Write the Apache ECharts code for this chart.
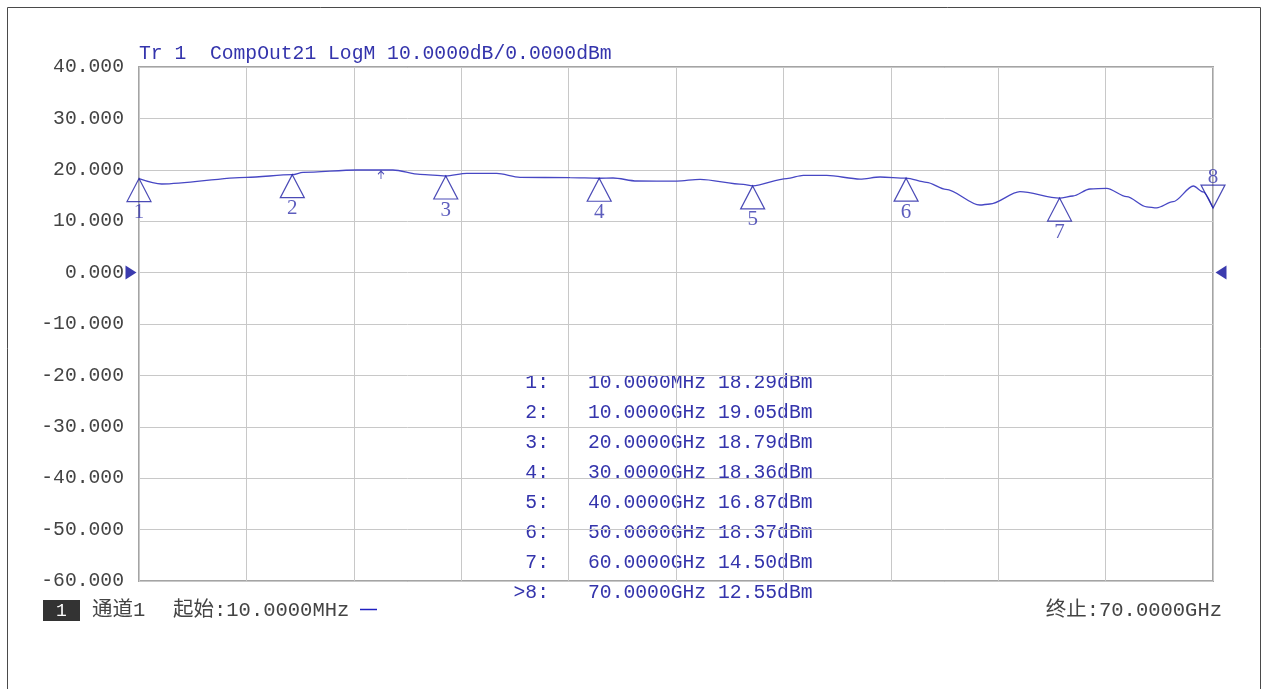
<!DOCTYPE html>
<html>
<head>
<meta charset="utf-8">
<script src="https://cdn.jsdelivr.net/npm/echarts@6/dist/echarts.min.js"></script>
<style>
html,body{margin:0;padding:0;background:#fff;}
#c{width:1263px;height:689px;}
</style>
</head>
<body>
<div id="c"></div>
<script>
// ---- data ----
var traceFreqGHz = [0.01, 1.49, 7.03, 10.0, 10.70, 14.20, 16.56, 18.32, 20.0, 21.37, 23.32, 24.84, 28.10, 30.0, 30.9, 32.45, 35.05, 36.57, 39.39, 40.0, 42.22, 43.30, 44.83, 47.0, 48.3, 50.0, 51.33, 52.6, 54.81, 55.46, 57.42, 60.0, 60.87, 61.98, 63.07, 64.37, 65.68, 66.33, 67.4, 68.72, 69.35, 70.0];
var traceDbm = [18.29, 17.24, 18.54, 19.05, 19.5, 19.96, 19.96, 19.1, 18.79, 19.3, 19.3, 18.54, 18.46, 18.36, 18.4, 17.82, 17.8, 18.15, 17.18, 16.87, 18.3, 18.9, 18.9, 18.2, 18.6, 18.37, 17.57, 16.2, 13.15, 13.35, 15.74, 14.50, 14.9, 16.26, 16.4, 14.77, 12.8, 12.6, 13.8, 16.85, 15.7, 12.55];
var markerNames = ['1', '2', '3', '4', '5', '6', '7', '8'];
var markerFreqGHz = [0.01, 10, 20, 30, 40, 50, 60, 70];
var markerDbm = [18.29, 19.05, 18.79, 18.36, 16.87, 18.37, 14.50, 12.55];
var markerFreqText = ['10.0000MHz', '10.0000GHz', '20.0000GHz', '30.0000GHz', '40.0000GHz', '50.0000GHz', '60.0000GHz', '70.0000GHz'];
var markerValText = ['18.29dBm', '19.05dBm', '18.79dBm', '18.36dBm', '16.87dBm', '18.37dBm', '14.50dBm', '12.55dBm'];
var activeMarker = 8;
var maxArrowPoint = [15.78, 19.96];
var refLevel = 0;
var yMin = -60, yMax = 40, yStep = 10;
var xStart = 0.01, xStop = 70;
var titleText = 'Tr 1  CompOut21 LogM 10.0000dB/0.0000dBm';
var startText = '起始:10.0000MHz';
var stopText = '终止:70.0000GHz';
var channelText = '通道1';

// ---- styles ----
var MONO = "'Liberation Mono','Noto Sans CJK SC',monospace";
var FS = '19.7px ';
var BLUE_TXT = '#3434ac';
var TRACE = '#4747c4';
var MARK = '#1e1ea4';

var chart = echarts.init(document.getElementById('c'));

var traceData = traceFreqGHz.map(function (f, i) { return [f, traceDbm[i]]; });
var markerData = markerFreqGHz.map(function (f, i) {
  var active = (i + 1) === activeMarker;
  return {
    value: [f, markerDbm[i]],
    symbolRotate: active ? 180 : 0,
    symbolOffset: active ? [0, -11.5] : [0, 11.5]
  };
});
var markerLabelData = markerFreqGHz.map(function (f, i) {
  var active = (i + 1) === activeMarker;
  return {
    value: [f, markerDbm[i]],
    name: markerNames[i],
    label: { offset: active ? [0, -31] : [0, 34] }
  };
});

var graphics = [
  { type: 'rect', shape: { x: 7.5, y: 7.5, width: 1253, height: 700 }, style: { fill: 'none', stroke: '#4a4a4a', lineWidth: 1 }, silent: true },
  { type: 'text', left: 139, top: 44, style: { text: titleText, font: FS + MONO, fill: BLUE_TXT } },
  { type: 'rect', shape: { x: 43, y: 600, width: 37, height: 21 }, style: { fill: '#333333' } },
  { type: 'text', x: 61.5, y: 611, style: { text: '1', font: '18px ' + MONO, fill: '#ffffff', align: 'center', verticalAlign: 'middle' } },
  { type: 'text', x: 92, y: 611, style: { text: channelText, font: '20.5px ' + MONO, fill: '#444444', verticalAlign: 'middle' } },
  { type: 'text', x: 173, y: 611, style: { text: startText, font: '20.5px ' + MONO, fill: '#444444', verticalAlign: 'middle' } },
  { type: 'line', shape: { x1: 360, y1: 609.5, x2: 377, y2: 609.5 }, style: { stroke: '#2020c0', lineWidth: 1.5 } },
  { type: 'text', x: 1222, y: 611, style: { text: stopText, font: '20.5px ' + MONO, fill: '#444444', align: 'right', verticalAlign: 'middle' } }
];
for (var i = 0; i < markerNames.length; i++) {
  var y = 383 + 30 * i;
  var prefix = ((i + 1) === activeMarker ? '>' : '') + markerNames[i] + ':';
  graphics.push({ type: 'text', x: 549, y: y, style: { text: prefix, font: FS + MONO, fill: BLUE_TXT, align: 'right', verticalAlign: 'middle' } });
  graphics.push({ type: 'text', x: 588, y: y, style: { text: markerFreqText[i], font: FS + MONO, fill: BLUE_TXT, verticalAlign: 'middle' } });
  graphics.push({ type: 'text', x: 718, y: y, style: { text: markerValText[i], font: FS + MONO, fill: BLUE_TXT, verticalAlign: 'middle' } });
}

var option = {
  animation: false,
  backgroundColor: '#ffffff',
  grid: { left: 139, right: 50, top: 67, bottom: 108, show: true, borderColor: '#a4a4a4', borderWidth: 2, containLabel: false },
  xAxis: [
    { type: 'value', min: 0, max: 10, interval: 1, axisLine: { show: false }, axisTick: { show: false }, axisLabel: { show: false },
      splitLine: { show: true, lineStyle: { color: '#c8c8c8', width: 1 } } },
    { type: 'value', min: xStart, max: xStop, show: false, splitLine: { show: false } }
  ],
  yAxis: {
    type: 'value', min: yMin, max: yMax, interval: yStep,
    axisLine: { show: false }, axisTick: { show: false },
    axisLabel: { formatter: function (v) { return v.toFixed(3); }, fontFamily: MONO, fontSize: 19.7, color: '#444444', margin: 15 },
    splitLine: { show: true, lineStyle: { color: '#c8c8c8', width: 1 } }
  },
  series: [
    { type: 'line', xAxisIndex: 1, data: traceData, showSymbol: false, smooth: 0.3, smoothMonotone: 'x',
      lineStyle: { color: TRACE, width: 1.3 }, z: 3 },
    { type: 'scatter', xAxisIndex: 1, data: markerData, symbol: 'triangle', symbolSize: [24, 23], clip: false,
      itemStyle: { color: 'rgba(255,255,255,0)', borderColor: MARK, borderWidth: 1.2 }, z: 4 },
    { type: 'scatter', xAxisIndex: 1, data: markerLabelData, symbolSize: 1, clip: false,
      itemStyle: { color: 'rgba(0,0,0,0)' },
      label: { show: true, position: 'inside', formatter: '{b}', fontFamily: "'Liberation Serif',serif", fontSize: 21, color: BLUE_TXT }, z: 5 },
    { type: 'scatter', xAxisIndex: 1, data: [maxArrowPoint], symbol: 'path://M5,0 L5,10 M1,4 L5,0 L9,4', symbolSize: [6, 8], symbolOffset: [0, 5],
      itemStyle: { color: 'rgba(0,0,0,0)', borderColor: MARK, borderWidth: 1 }, z: 5 },
    { type: 'scatter', xAxisIndex: 1, clip: false, symbol: 'triangle', symbolSize: [14, 11],
      data: [
        { value: [xStart, refLevel], symbolRotate: -90, symbolOffset: [-8, 0] },
        { value: [xStop, refLevel], symbolRotate: 90, symbolOffset: [8, 0] }
      ],
      itemStyle: { color: '#0a0a9a' }, z: 6 }
  ],
  graphic: graphics
};
chart.setOption(option);
</script>
</body>
</html>
